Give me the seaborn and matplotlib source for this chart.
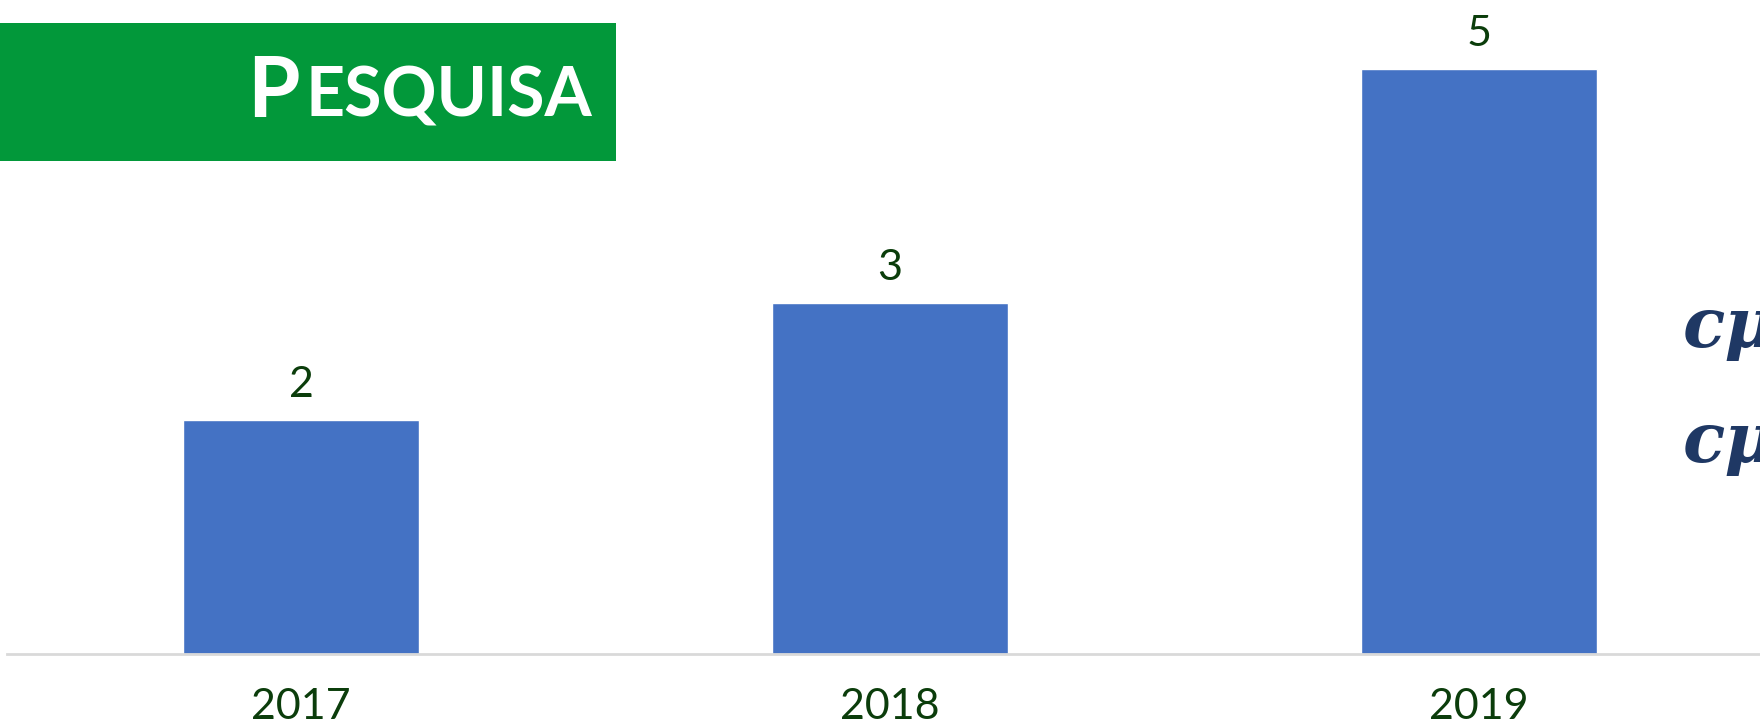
import matplotlib.pyplot as plt
import seaborn as sns
from matplotlib.patches import Rectangle

# Dados do grafico
anos = ['2017', '2018', '2019']
pesquisas = [2, 3, 5]
rotulos = ['2', '3', '5']

sns.set_style('white')
plt.rcParams['font.family'] = ['Lato', 'DejaVu Sans']

cor_barra = '#4472C4'
cor_texto = '#0B3D0B'
cor_verde = '#02983A'

fig = plt.figure(figsize=(17.6, 7.26), dpi=100)
# area do grafico (em pixels: base em y=653, categorias a cada 589 px)
ax = fig.add_axes([6.5 / 1760, 72.5 / 726, 1767 / 1760, 643.5 / 726])

sns.barplot(x=anos, y=pesquisas, color=cor_barra, width=0.4, saturation=1, ax=ax)
ax.set_xlim(-0.5, 2.5)
ax.set_ylim(0, 5.5)

ax.bar_label(ax.containers[0], labels=rotulos, padding=11, fontsize=31, color=cor_texto)

sns.despine(ax=ax, left=True, top=True, right=True, bottom=False)
ax.spines['bottom'].set_color('#D9D9D9')
ax.spines['bottom'].set_linewidth(2)
ax.set_yticks([])
ax.set_ylabel('')
ax.set_xlabel('')
ax.tick_params(axis='x', length=0, pad=25, labelsize=31, labelcolor=cor_texto)

# Caixa verde do titulo
fig.patches.append(Rectangle((0, 1 - 161 / 726), 616 / 1760, 138 / 726,
                             transform=fig.transFigure, facecolor=cor_verde,
                             edgecolor='none', zorder=0))

# "PESQUISA" em versalete: P maior, resto menor
t2 = fig.text(592 / 1760, 1 - 117 / 726, 'ESQUISA', ha='right', va='baseline',
              fontsize=49, fontweight='bold', color='white')
fig.canvas.draw()
bb = t2.get_window_extent()
fig.text((bb.x0 - 6) / 1760, 1 - 117 / 726, 'P', ha='right', va='baseline',
         fontsize=61, fontweight='bold', color='white')

# Texto cortado na borda direita
fig.text(1683 / 1760, 1 - 347 / 726, 'cμ', ha='left', va='baseline',
         fontsize=50, style='italic', fontweight='bold', color='#1F3864',
         family=['DejaVu Serif'])
fig.text(1683 / 1760, 1 - 462 / 726, 'cμα', ha='left', va='baseline',
         fontsize=50, style='italic', fontweight='bold', color='#1F3864',
         family=['DejaVu Serif'])

plt.savefig('out.png', dpi=100)
